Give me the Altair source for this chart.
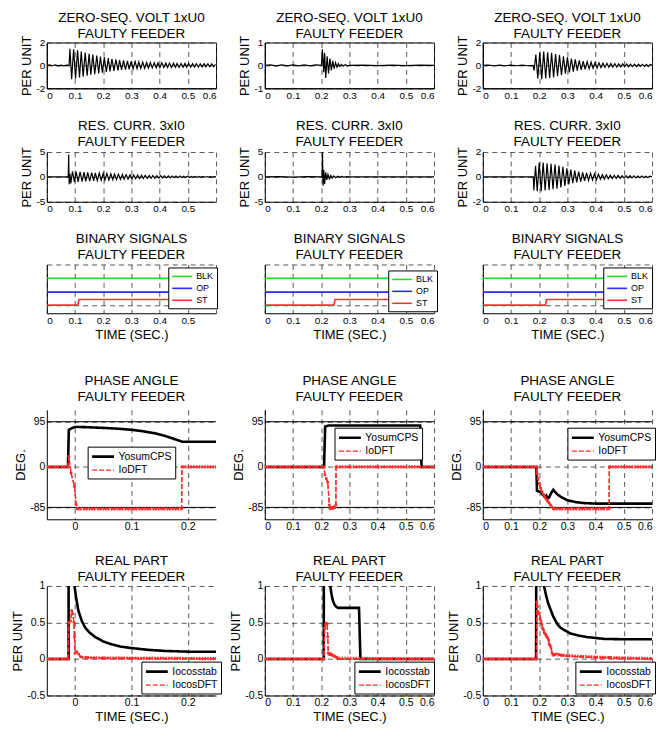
import altair as alt
import pandas as pd

FONT = "Liberation Sans"
RED = "#ff2a2a"

TIME_TICKS = [0, 0.1, 0.2, 0.3, 0.4, 0.5, 0.6]
EARLY_TICKS = [0, 0.1, 0.2]

T_U0 = ["ZERO-SEQ. VOLT 1xU0", "FAULTY FEEDER"]
T_I0 = ["RES. CURR. 3xI0", "FAULTY FEEDER"]
T_BIN = ["BINARY SIGNALS", "FAULTY FEEDER"]
T_PH = ["PHASE ANGLE", "FAULTY FEEDER"]
T_RE = ["REAL PART", "FAULTY FEEDER"]

# ---------------- row 1 : zero-sequence voltage (t, per unit) ----------------
U0_A = [(0.000, 0.00), (0.010, 0.04), (0.020, -0.03), (0.030, 0.04), (0.040, -0.04), (0.050, 0.03),
        (0.060, -0.04), (0.070, 0.03), (0.079, 0.00), (0.082, 1.45), (0.088, -1.20), (0.095, 1.40),
        (0.102, -1.15), (0.109, 1.32), (0.116, -1.05), (0.122, 1.22), (0.129, -0.98), (0.136, 1.12),
        (0.143, -0.90), (0.150, 1.02), (0.156, -0.82), (0.163, 0.94), (0.170, -0.76), (0.177, 0.86),
        (0.184, -0.70), (0.190, 0.78), (0.197, -0.64), (0.204, 0.70), (0.211, -0.58), (0.218, 0.64),
        (0.224, -0.52), (0.231, 0.58), (0.238, -0.48), (0.245, 0.52), (0.252, -0.44), (0.258, 0.47),
        (0.265, -0.40), (0.272, 0.43), (0.279, -0.37), (0.286, 0.39), (0.292, -0.34), (0.299, 0.36),
        (0.306, -0.31), (0.313, 0.33), (0.320, -0.29), (0.326, 0.30), (0.333, -0.27), (0.340, 0.28),
        (0.347, -0.25), (0.354, 0.26), (0.360, -0.24), (0.367, 0.25), (0.374, -0.22), (0.381, 0.23),
        (0.388, -0.21), (0.394, 0.22), (0.401, -0.20), (0.408, 0.22), (0.415, -0.19), (0.422, 0.20),
        (0.428, -0.18), (0.435, 0.20), (0.442, -0.18), (0.449, 0.19), (0.456, -0.17), (0.462, 0.18),
        (0.469, -0.17), (0.476, 0.17), (0.483, -0.16), (0.490, 0.17), (0.496, -0.15), (0.503, 0.16),
        (0.510, -0.15), (0.517, 0.15), (0.524, -0.14), (0.530, 0.15), (0.537, -0.14), (0.544, 0.14),
        (0.551, -0.13), (0.558, 0.14), (0.564, -0.13), (0.571, 0.13), (0.578, -0.12), (0.585, 0.13),
        (0.592, -0.12), (0.598, 0.10)]
U0_B = [(0.000, 0.00), (0.020, 0.02), (0.040, -0.02), (0.060, 0.02), (0.080, -0.02), (0.100, 0.02),
        (0.120, -0.02), (0.140, 0.02), (0.160, -0.02), (0.180, 0.02), (0.201, 0.00), (0.204, 0.70),
        (0.209, -0.30), (0.212, 0.55), (0.216, -0.55), (0.221, 0.40), (0.226, -0.35), (0.231, 0.30),
        (0.236, -0.22), (0.241, 0.20), (0.246, -0.14), (0.251, 0.12), (0.256, -0.08), (0.261, 0.07),
        (0.266, -0.05), (0.272, 0.04), (0.278, -0.03), (0.285, 0.03), (0.292, -0.02), (0.300, 0.00),
        (0.350, 0.01), (0.400, -0.01), (0.450, 0.01), (0.500, -0.01), (0.550, 0.01), (0.600, 0.00)]
U0_C = [(0.000, 0.00), (0.020, 0.03), (0.040, -0.03), (0.060, 0.03), (0.080, -0.03), (0.100, 0.03),
        (0.120, -0.03), (0.140, 0.03), (0.160, -0.03), (0.178, 0.00), (0.182, -0.45), (0.188, 0.95),
        (0.195, -1.15), (0.202, 1.15), (0.209, -1.20), (0.216, 1.20), (0.223, -1.15), (0.230, 1.15),
        (0.237, -1.10), (0.244, 1.10), (0.251, -1.05), (0.258, 1.00), (0.265, -0.95), (0.272, 0.90),
        (0.279, -0.85), (0.286, 0.80), (0.293, -0.72), (0.300, 0.70), (0.307, -0.62), (0.314, 0.60),
        (0.321, -0.54), (0.328, 0.52), (0.335, -0.46), (0.342, 0.45), (0.349, -0.40), (0.356, 0.38),
        (0.363, -0.34), (0.370, 0.33), (0.377, -0.30), (0.384, 0.29), (0.391, -0.26), (0.398, 0.25),
        (0.405, -0.23), (0.412, 0.22), (0.419, -0.20), (0.426, 0.20), (0.433, -0.18), (0.440, 0.18),
        (0.447, -0.16), (0.454, 0.16), (0.461, -0.15), (0.468, 0.15), (0.475, -0.14), (0.482, 0.14),
        (0.489, -0.13), (0.496, 0.13), (0.503, -0.12), (0.510, 0.12), (0.517, -0.11), (0.524, 0.11),
        (0.531, -0.10), (0.538, 0.10), (0.545, -0.10), (0.552, 0.10), (0.559, -0.09), (0.566, 0.09),
        (0.573, -0.09), (0.580, 0.09), (0.587, -0.08), (0.594, 0.08), (0.600, 0.00)]

# ---------------- row 2 : residual current ----------------
I0_A = [(0.000, 0.00), (0.076, 0.00), (0.0775, 4.50), (0.079, -1.50), (0.082, 0.60), (0.085, -1.30),
        (0.091, 1.10), (0.098, -1.05), (0.104, 1.05), (0.111, -1.00), (0.118, 1.00), (0.125, -0.95),
        (0.132, 0.95), (0.138, -0.90), (0.145, 0.90), (0.152, -0.85), (0.159, 0.85), (0.166, -0.80),
        (0.172, 0.80), (0.179, -0.75), (0.186, 0.75), (0.193, -0.70), (0.200, 0.70), (0.206, -0.66),
        (0.213, 0.65), (0.220, -0.62), (0.227, 0.60), (0.234, -0.58), (0.240, 0.56), (0.247, -0.54),
        (0.254, 0.52), (0.261, -0.50), (0.268, 0.48), (0.274, -0.46), (0.281, 0.45), (0.288, -0.43),
        (0.295, 0.42), (0.302, -0.40), (0.308, 0.39), (0.315, -0.37), (0.322, 0.36), (0.329, -0.34),
        (0.336, 0.33), (0.342, -0.32), (0.349, 0.31), (0.356, -0.30), (0.363, 0.29), (0.370, -0.28),
        (0.376, 0.27), (0.383, -0.26), (0.390, 0.25), (0.397, -0.24), (0.404, 0.23), (0.410, -0.22),
        (0.417, 0.21), (0.424, -0.20), (0.431, 0.20), (0.438, -0.19), (0.444, 0.18), (0.451, -0.17),
        (0.458, 0.17), (0.465, -0.16), (0.472, 0.15), (0.478, -0.14), (0.485, 0.14), (0.492, -0.13),
        (0.499, 0.12), (0.506, -0.12), (0.512, 0.11), (0.519, -0.10), (0.526, 0.10), (0.533, -0.09),
        (0.540, 0.09), (0.546, -0.08), (0.553, 0.08), (0.560, -0.07), (0.567, 0.07), (0.574, -0.06),
        (0.580, 0.06), (0.587, -0.05), (0.594, 0.05), (0.600, 0.00)]
I0_B = [(0.000, 0.00), (0.050, 0.05), (0.100, -0.05), (0.150, 0.05), (0.203, 0.00), (0.2045, 5.20),
        (0.2065, -1.80), (0.209, 1.40), (0.212, -1.40), (0.216, 0.90), (0.220, -0.60), (0.224, 0.50),
        (0.229, -0.40), (0.234, 0.30), (0.239, -0.25), (0.245, 0.20), (0.251, -0.15), (0.258, 0.12),
        (0.265, -0.10), (0.272, 0.08), (0.280, -0.06), (0.290, 0.04), (0.300, 0.00), (0.600, 0.00)]
I0_C = [(0.000, 0.00), (0.179, 0.00), (0.181, -1.10), (0.187, 0.90), (0.193, -1.15), (0.200, 1.15),
        (0.207, -1.15), (0.214, 1.15), (0.221, -1.10), (0.228, 1.10), (0.235, -1.05), (0.242, 1.05),
        (0.249, -1.00), (0.256, 1.00), (0.263, -0.95), (0.270, 0.90), (0.277, -0.85), (0.284, 0.80),
        (0.291, -0.72), (0.298, 0.68), (0.305, -0.60), (0.312, 0.58), (0.319, -0.50), (0.326, 0.50),
        (0.333, -0.44), (0.340, 0.43), (0.347, -0.38), (0.354, 0.37), (0.361, -0.33), (0.368, 0.32),
        (0.375, -0.28), (0.382, 0.28), (0.389, -0.25), (0.396, 0.24), (0.403, -0.22), (0.410, 0.21),
        (0.417, -0.19), (0.424, 0.18), (0.431, -0.17), (0.438, 0.16), (0.445, -0.15), (0.452, 0.14),
        (0.459, -0.13), (0.466, 0.13), (0.473, -0.12), (0.480, 0.12), (0.487, -0.11), (0.494, 0.10),
        (0.501, -0.10), (0.508, 0.10), (0.515, -0.09), (0.522, 0.09), (0.529, -0.08), (0.536, 0.08),
        (0.543, -0.08), (0.550, 0.07), (0.557, -0.07), (0.564, 0.07), (0.571, -0.06), (0.578, 0.06),
        (0.585, -0.06), (0.592, 0.05), (0.600, 0.00)]

# ---------------- row 3 : binary signals ----------------
BIN_NAMES = ["BLK", "OP", "ST"]
BIN_COLORS = ["#22dd22", "#2a2aff", "#ff3030"]
BLK_LINE = [(0.0, 1.65), (0.6, 1.65)]
OP_LINE = [(0.0, 0.8), (0.6, 0.8)]
ST_A = [(0.0, 0.0), (0.110, 0.0), (0.114, 0.35), (0.6, 0.35)]
ST_B = [(0.0, 0.0), (0.245, 0.0), (0.249, 0.35), (0.6, 0.35)]
ST_C = [(0.0, 0.0), (0.222, 0.0), (0.226, 0.35), (0.6, 0.35)]

# ---------------- row 4 : phase angle (deg) ----------------
PH_NAMES = ["YosumCPS", "IoDFT"]
PH_LIMITS = [95, -85]
YOSUM_A = [(-0.05, 0), (-0.0125, 0), (-0.011, 78), (-0.008, 80), (0.0, 84), (0.02, 83.5), (0.05, 82),
           (0.08, 80), (0.10, 78), (0.12, 75), (0.14, 71), (0.16, 65), (0.175, 59), (0.19, 53), (0.25, 53)]
IODFT_A = [(-0.05, 0), (-0.0125, 0), (-0.011, 22), (-0.007, -13), (-0.001, -41), (0.002, -79),
           (0.004, -88), (0.189, -88), (0.1895, 0), (0.25, 0)]
IODFT_A_DENSE = [[(-0.05, 0), (-0.0125, 0)], [(0.004, -88), (0.189, -88)], [(0.1895, 0), (0.25, 0)]]
YOSUM_B = [(0.0, 0), (0.21, 0), (0.214, 85), (0.225, 87), (0.551, 87), (0.556, 0), (0.6, 0)]
IODFT_B = [(0.0, 0), (0.21, 0), (0.213, -17), (0.218, -25), (0.223, -32), (0.229, -80), (0.232, -88),
           (0.236, -85), (0.240, -88), (0.244, -84), (0.248, -86), (0.252, -80), (0.2525, 0), (0.6, 0)]
IODFT_B_DENSE = [[(0.0, 0), (0.21, 0)], [(0.23, -87), (0.25, -84)], [(0.2525, 0), (0.6, 0)]]
YOSUM_C = [(0.0, 0), (0.19, 0), (0.192, -50), (0.20, -52), (0.205, -52), (0.21, -57), (0.22, -63),
           (0.225, -60), (0.23, -66), (0.235, -64), (0.245, -52), (0.25, -48), (0.255, -52), (0.265, -58),
           (0.28, -64), (0.30, -70), (0.33, -74), (0.36, -76), (0.40, -77), (0.6, -77)]
IODFT_C = [(0.0, 0), (0.19, 0), (0.193, -15), (0.196, -25), (0.20, -35), (0.205, -45), (0.21, -52),
           (0.215, -58), (0.22, -63), (0.225, -68), (0.23, -72), (0.235, -76), (0.24, -80), (0.245, -84),
           (0.25, -88), (0.448, -88), (0.4485, 0), (0.6, 0)]
IODFT_C_DENSE = [[(0.0, 0), (0.19, 0)], [(0.25, -88), (0.448, -88)], [(0.4485, 0), (0.6, 0)]]

# ---------------- row 5 : real part (per unit) ----------------
RE_NAMES = ["Iocosstab", "IocosDFT"]
STAB_A = [(-0.05, 0), (-0.0115, 0), (-0.011, 3.0), (-0.002, 3.0), (-0.001, 1.0), (0.002, 0.84),
          (0.006, 0.66), (0.012, 0.52), (0.018, 0.43), (0.026, 0.36), (0.036, 0.30), (0.05, 0.24),
          (0.065, 0.20), (0.08, 0.17), (0.10, 0.15), (0.13, 0.125), (0.16, 0.11), (0.20, 0.10), (0.25, 0.10)]
CDFT_A = [(-0.05, 0), (-0.0125, 0), (-0.011, 0.50), (-0.008, 0.52), (-0.006, 0.66), (-0.004, 0.62),
          (-0.002, 0.50), (-0.001, 0.30), (0.0, 0.08), (0.003, 0.10), (0.006, 0.07), (0.010, 0.03),
          (0.020, 0.02), (0.05, 0.012), (0.10, 0.01), (0.25, 0.005)]
CDFT_A_DENSE = [[(-0.05, 0), (-0.0125, 0)], [(0.012, 0.02), (0.05, 0.012), (0.10, 0.01), (0.25, 0.005)]]
STAB_B = [(0.0, 0), (0.209, 0), (0.210, 3.0), (0.231, 3.0), (0.232, 1.0), (0.236, 0.9), (0.240, 0.82),
          (0.245, 0.76), (0.250, 0.73), (0.255, 0.71), (0.260, 0.70), (0.334, 0.70), (0.339, 0.0), (0.6, 0)]
CDFT_B = [(0.0, 0), (0.21, 0), (0.212, 0.42), (0.215, 0.47), (0.218, 0.49), (0.221, 0.48), (0.223, 0.30),
          (0.225, 0.08), (0.228, 0.08), (0.231, 0.06), (0.235, 0.07), (0.24, 0.05), (0.245, 0.04),
          (0.25, 0.03), (0.255, 0.02), (0.26, 0.0), (0.6, 0)]
CDFT_B_DENSE = [[(0.0, 0), (0.21, 0)], [(0.226, 0.07), (0.24, 0.05), (0.26, 0.01), (0.6, 0.0)]]
STAB_C = [(0.0, 0), (0.189, 0), (0.190, 3.0), (0.216, 3.0), (0.217, 1.0), (0.225, 0.86), (0.232, 0.76),
          (0.24, 0.68), (0.25, 0.58), (0.264, 0.48), (0.275, 0.43), (0.287, 0.40), (0.31, 0.35),
          (0.34, 0.32), (0.37, 0.30), (0.43, 0.275), (0.5, 0.27), (0.6, 0.27)]
CDFT_C = [(0.0, 0), (0.19, 0), (0.191, 0.78), (0.194, 0.72), (0.197, 0.62), (0.20, 0.63), (0.203, 0.55),
          (0.206, 0.52), (0.209, 0.48), (0.212, 0.42), (0.215, 0.40), (0.218, 0.36), (0.221, 0.34),
          (0.224, 0.33), (0.227, 0.30), (0.23, 0.29), (0.233, 0.26), (0.236, 0.20), (0.239, 0.18),
          (0.242, 0.15), (0.246, 0.08), (0.25, 0.05), (0.255, 0.06), (0.26, 0.07), (0.27, 0.06),
          (0.28, 0.05), (0.30, 0.04), (0.35, 0.03), (0.40, 0.02), (0.45, 0.02), (0.50, 0.01), (0.6, 0.005)]
CDFT_C_DENSE = [[(0.0, 0), (0.19, 0)], [(0.255, 0.06), (0.30, 0.045), (0.40, 0.025), (0.50, 0.012), (0.6, 0.005)]]

W = 170
HSP = 49
LEG_SYMBOL = "M-1,0H3"


def frame(pairs, name=None):
    df = pd.DataFrame(pairs, columns=["t", "v"])
    df["i"] = range(len(df))
    if name is not None:
        df["s"] = name
    return df


def title(lines, offset):
    return alt.TitleParams(lines, font=FONT, fontSize=13.5, fontWeight="normal", color="black",
                           anchor="middle", frame="group", offset=offset, lineHeight=16)


def xaxis(values, fs, hide_last=False, name=None):
    expr = "datum.value > 0.55 ? '' : '' + datum.value" if hide_last else "'' + datum.value"
    return alt.Axis(values=values, title=name, grid=True, labelExpr=expr, labelFontSize=fs,
                    titleFontSize=13, labelOverlap=False, titlePadding=3)


def yaxis(values, fs, name, labels=True):
    return alt.Axis(values=values, title=name, grid=True, labelExpr="'' + datum.value", labelFontSize=fs,
                    titleFontSize=13, labels=labels, labelOverlap=False, titlePadding=2)


def wave_panel(pairs, ydom, yticks, lines, boxed, hide_last, h, toff):
    ch = alt.Chart(frame(pairs)).mark_line(color="black", strokeWidth=1.2, clip=True).encode(
        x=alt.X("t:Q", scale=alt.Scale(domain=[0, 0.6], nice=False, zero=False),
                axis=xaxis(TIME_TICKS, 10, hide_last)),
        y=alt.Y("v:Q", scale=alt.Scale(domain=ydom, nice=False, zero=False),
                axis=yaxis(yticks, 10, "PER UNIT")),
        order="i:Q",
    )
    props = dict(width=W, height=h, title=title(lines, toff))
    if boxed:
        props["view"] = alt.ViewBackground(stroke="black", strokeWidth=1)
    return ch.properties(**props)


def binary_panel(st, hide_last, lx, ly):
    df = pd.concat([frame(BLK_LINE, "BLK"), frame(OP_LINE, "OP"), frame(st, "ST")])
    ch = alt.Chart(df).mark_line(strokeWidth=1.6, clip=True).encode(
        x=alt.X("t:Q", scale=alt.Scale(domain=[0, 0.6], nice=False, zero=False),
                axis=xaxis(TIME_TICKS, 10, hide_last, "TIME (SEC.)")),
        y=alt.Y("v:Q", scale=alt.Scale(domain=[-0.5, 2.5], nice=False, zero=False),
                axis=yaxis([0, 2.5], 10, None, labels=False)),
        color=alt.Color("s:N", scale=alt.Scale(domain=BIN_NAMES, range=BIN_COLORS),
                        legend=alt.Legend(orient="none", legendX=lx, legendY=ly, title=None,
                                          fillColor="white", strokeColor="black", padding=3,
                                          labelFontSize=9, labelFont=FONT, symbolType=LEG_SYMBOL,
                                          symbolSize=100, symbolStrokeWidth=1.6, rowPadding=1,
                                          labelOffset=13)),
        detail="s:N",
        order="i:Q",
    )
    return ch.properties(width=W, height=49, title=title(T_BIN, 3))


def dense_frame(segments):
    parts = []
    for k, seg in enumerate(segments):
        d = frame(seg)
        d["seg"] = k
        parts.append(d)
    return pd.concat(parts)


def two_series_panel(black, red, dense, names, xdom, xticks, ydom, yticks, ytitle, lines,
                     lx, ly, h, xtitle, toff, limits=None):
    df = pd.concat([frame(black, names[0]), frame(red, names[1])])
    leg = alt.Legend(orient="none", legendX=lx, legendY=ly, title=None, fillColor="white",
                     strokeColor="black", padding=3, labelFontSize=10.5,
                     labelFont=FONT, symbolType=LEG_SYMBOL, symbolSize=121, rowPadding=1,
                     labelOffset=14)
    xs = alt.Scale(domain=xdom, nice=False, zero=False)
    ys = alt.Scale(domain=ydom, nice=False, zero=False)

    def X():
        return alt.X("t:Q", scale=xs, axis=xaxis(xticks, 10.5, False, xtitle))

    def Y():
        return alt.Y("v:Q", scale=ys, axis=yaxis(yticks, 10.5, ytitle))

    color = alt.Color("s:N", scale=alt.Scale(domain=names, range=["black", RED]), legend=leg)
    dash = alt.StrokeDash("s:N", scale=alt.Scale(domain=names, range=[[1, 0], [5, 2]]), legend=leg)
    sw = alt.StrokeWidth("s:N", scale=alt.Scale(domain=names, range=[2.6, 1.3]), legend=leg)
    lines_layer = alt.Chart(df).mark_line(clip=True).encode(
        x=X(), y=Y(), color=color, strokeDash=dash, strokeWidth=sw, detail="s:N", order="i:Q")
    layers = [lines_layer]
    if limits is not None:
        layers.append(alt.Chart(pd.DataFrame({"v": limits})).mark_rule(color="black", strokeWidth=1)
                      .encode(y=Y()))
    redline = alt.Chart(frame(red)).mark_line(color=RED, strokeWidth=1.3, strokeDash=[5, 2],
                                              clip=True).encode(x=X(), y=Y(), order="i:Q")
    dn = alt.Chart(dense_frame(dense)).mark_line(color=RED, strokeWidth=3.2, strokeDash=[1.6, 1.2],
                                                  clip=True).encode(
        x=X(), y=Y(), detail="seg:N", order="i:Q")
    pts = alt.Chart(frame(red)).mark_point(filled=True, size=9, color=RED, opacity=1, clip=True).encode(
        x=X(), y=Y())
    layers += [redline, dn, pts]
    return alt.layer(*layers).properties(width=W, height=h, title=title(lines, toff))


def hrow(*charts, legends=False):
    r = alt.hconcat(*charts, spacing=HSP, bounds="flush")
    if legends:
        r = r.resolve_scale(color="independent", strokeDash="independent", strokeWidth="independent")
    return r


row1 = hrow(wave_panel(U0_A, [-2, 2], [-2, 0, 2], T_U0, True, False, 46, -5),
            wave_panel(U0_B, [-1, 1], [-1, 0, 1], T_U0, True, False, 46, -5),
            wave_panel(U0_C, [-2, 2], [-2, 0, 2], T_U0, True, False, 46, -5))
row2 = hrow(wave_panel(I0_A, [-5, 5], [-5, 0, 5], T_I0, False, True, 50, -2),
            wave_panel(I0_B, [-5, 5], [-5, 0, 5], T_I0, False, False, 50, -2),
            wave_panel(I0_C, [-2, 2], [-2, 0, 2], T_I0, False, False, 50, -2))
row3 = hrow(binary_panel(ST_A, True, 122, 3),
            binary_panel(ST_B, False, 124, 6),
            binary_panel(ST_C, False, 121, 3), legends=True)
row4 = hrow(two_series_panel(YOSUM_A, IODFT_A, IODFT_A_DENSE, PH_NAMES, [-0.05, 0.25], EARLY_TICKS,
                             [-110, 120], [-85, 0, 95], "DEG.", T_PH, 41, 37, 110, None, 6, PH_LIMITS),
            two_series_panel(YOSUM_B, IODFT_B, IODFT_B_DENSE, PH_NAMES, [0, 0.6], TIME_TICKS,
                             [-110, 120], [-85, 0, 95], "DEG.", T_PH, 70, 18, 110, None, 6, PH_LIMITS),
            two_series_panel(YOSUM_C, IODFT_C, IODFT_C_DENSE, PH_NAMES, [0, 0.6], TIME_TICKS,
                             [-110, 120], [-85, 0, 95], "DEG.", T_PH, 85, 18, 110, None, 6, PH_LIMITS),
            legends=True)
row5 = hrow(two_series_panel(STAB_A, CDFT_A, CDFT_A_DENSE, RE_NAMES, [-0.05, 0.25], EARLY_TICKS,
                             [-0.5, 1], [-0.5, 0, 0.5, 1], "PER UNIT", T_RE, 95, 76, 110, "TIME (SEC.)", -2),
            two_series_panel(STAB_B, CDFT_B, CDFT_B_DENSE, RE_NAMES, [0, 0.6], TIME_TICKS,
                             [-0.5, 1], [-0.5, 0, 0.5, 1], "PER UNIT", T_RE, 90, 76, 110, "TIME (SEC.)", -2),
            two_series_panel(STAB_C, CDFT_C, CDFT_C_DENSE, RE_NAMES, [0, 0.6], TIME_TICKS,
                             [-0.5, 1], [-0.5, 0, 0.5, 1], "PER UNIT", T_RE, 93, 76, 110, "TIME (SEC.)", -2),
            legends=True)

RES = dict(color="independent", strokeDash="independent", strokeWidth="independent")
top = alt.vconcat(row1, row2, row3, spacing=18).resolve_scale(**RES)
bottom = alt.vconcat(row4, row5, spacing=21).resolve_scale(**RES)

chart = alt.vconcat(top, bottom, spacing=33).resolve_scale(**RES).properties(
    padding={"left": 3, "top": 0, "right": 0, "bottom": 0}
).configure(font=FONT).configure_view(stroke=None).configure_axis(
    domainColor="black", domainWidth=1, gridColor="#303030", gridDash=[5, 4], gridWidth=0.8,
    ticks=False, labelColor="black", labelFont=FONT, titleFont=FONT, titleFontWeight="normal",
    titleColor="black", labelPadding=2
)

chart.save("out.html", embed_options={"renderer": "svg", "actions": False})
